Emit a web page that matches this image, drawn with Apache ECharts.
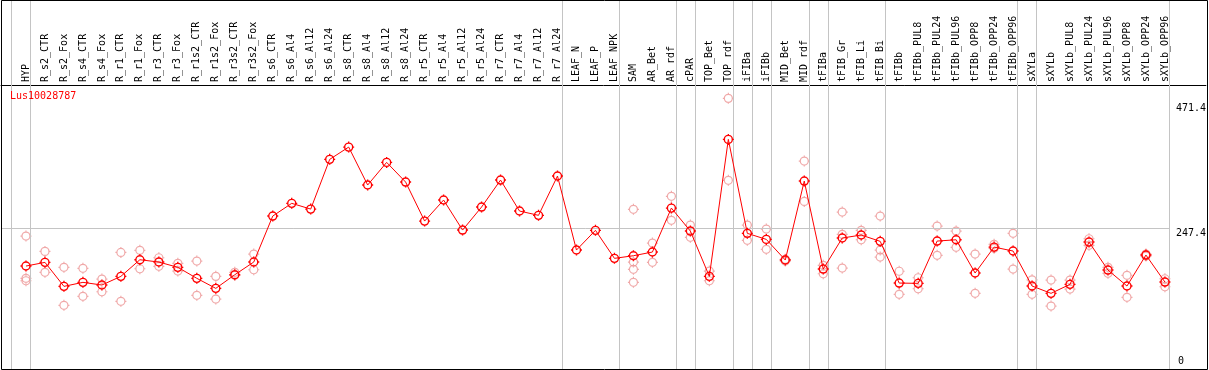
<!DOCTYPE html>
<html>
<head>
<meta charset="utf-8">
<script src="https://cdn.jsdelivr.net/npm/echarts@6/dist/echarts.min.js"></script>
<style>
html,body{margin:0;padding:0;background:#fff;}
#chart{width:1209px;height:370px;}
</style>
</head>
<body>
<div id="chart"></div>
<script>
const geneId = 'Lus10028787';
const categories = ['HYP','R_s2_CTR','R_s2_Fox','R_s4_CTR','R_s4_Fox','R_r1_CTR','R_r1_Fox','R_r3_CTR','R_r3_Fox','R_r1s2_CTR','R_r1s2_Fox','R_r3s2_CTR','R_r3s2_Fox','R_s6_CTR','R_s6_Al4','R_s6_Al12','R_s6_Al24','R_s8_CTR','R_s8_Al4','R_s8_Al12','R_s8_Al24','R_r5_CTR','R_r5_Al4','R_r5_Al12','R_r5_Al24','R_r7_CTR','R_r7_Al4','R_r7_Al12','R_r7_Al24','LEAF_N','LEAF_P','LEAF_NPK','SAM','AR_Bet','AR_rdf','cPAR','TOP_Bet','TOP_rdf','iFIBa','iFIBb','MID_Bet','MID_rdf','tFIBa','tFIB_Gr','tFIB_Li','tFIB_Bi','tFIBb','tFIBb_PUL8','tFIBb_PUL24','tFIBb_PUL96','tFIBb_OPP8','tFIBb_OPP24','tFIBb_OPP96','sXYLa','sXYLb','sXYLb_PUL8','sXYLb_PUL24','sXYLb_PUL96','sXYLb_OPP8','sXYLb_OPP24','sXYLb_OPP96'];
const means = [179.2,185.8,142.8,150.0,145.2,160.7,190.5,186.4,176.9,157.2,139.2,163.6,186.4,268.8,291.6,281.3,370.4,392.4,324.4,365.0,329.7,259.8,297.5,243.7,284.9,333.3,277.8,270.1,340.5,207.9,243.2,193.0,197.7,204.3,283.1,241.9,160.7,406.2,237.8,227.0,190.0,331.5,173.8,229.4,234.8,223.5,148.7,148.2,224.0,226.3,166.7,213.2,206.1,143.4,130.3,146.4,222.2,172.0,143.4,198.9,150.5];
const replicates = [
  [233.0,157.2,152.9],[205.5,167.9],[176.9,108.8],[175.1,124.9],[155.9,133.1],[203.7,115.9],[207.3,174.4],[194.1,178.7],[184.0,170.2],[188.2,126.7],
  [160.7,120.1],[167.9,162.5],[200.7,172.6],[],[],[],[],[],[],[],
  [],[],[],[],[],[],[],[],[],[],
  [],[],[280.8,186.4,173.3,150.0],[220.4,185.8],[304.1,261.1],[252.7,230.6],[170.2,152.9],[479.7,332.8],[252.7,225.3],[245.5,209.1],
  [191.2,188.2],[367.4,295.1],[180.5,165.4],[276.0,236.0,175.6],[243.2,226.3],[268.8,207.9,195.3],[169.9,128.5],[158.2,138.5],[250.9,198.4],[241.9,212.7],
  [200.7,130.3],[218.1,210.9],[237.8,173.8],[154.6,128.5],[154.1,107.5],[154.1,138.0],[228.1,216.3],[176.9,166.1],[162.5,123.1],[200.7,197.1],
  [156.4,142.1]
];
const groupEnds = [-1,0,28,31,34,35,37,38,39,41,42,45,52,53,60];
const yTickLabels = [247.4, 471.4];
const yZeroLabel = [0];
const refLine = 247.4;

const FONT = 'DejaVu Sans Mono';
const SEP_OFF = 4.5/19;
const xMin = -25/19, xMax = 1181/19;
const markerPath = 'path://M5.5,1.5 C7.709,1.5 9.5,3.291 9.5,5.5 C9.5,7.709 7.709,9.5 5.5,9.5 C3.291,9.5 1.5,7.709 1.5,5.5 C1.5,3.291 3.291,1.5 5.5,1.5 Z M5.5,0 L5.5,1.5 M5.5,9.5 L5.5,11 M0,5.5 L1.5,5.5 M9.5,5.5 L11,5.5';

const repData = [];
replicates.forEach((arr, i) => arr.forEach(v => repData.push([i, v])));
const meanData = means.map((v, i) => [i, v]);

const chart = echarts.init(document.getElementById('chart'), null, {renderer: 'canvas'});
const yBase = {type:'value', min:-5.3, max:656, position:'right', axisLine:{show:false}, axisTick:{show:false}, splitLine:{show:false}};
chart.setOption({
  animation: false,
  backgroundColor: '#fff',
  title: {text: geneId, left: 10, top: 91, padding: 0, textStyle: {color: '#ff0000', fontSize: 10, fontWeight: 'normal', fontFamily: FONT}},
  grid: {left: 1, right: 2, top: 0, bottom: 1, containLabel: false},
  xAxis: {
    type: 'value', min: xMin, max: xMax, position: 'top', offset: -85,
    axisLine: {show: true, onZero: false, lineStyle: {color: '#000', width: 1}},
    axisTick: {show: false}, splitLine: {show: false},
    axisLabel: {
      customValues: categories.map((_, i) => i),
      formatter: v => categories[Math.round(v)] || '',
      rotate: -90, margin: 3, fontFamily: FONT, fontSize: 10, color: '#000',
      showMinLabel: true, showMaxLabel: true
    }
  },
  yAxis: [
    Object.assign({}, yBase, {axisLabel: {inside: true, customValues: yTickLabels, align: 'left', verticalAlign: 'top', margin: 30, fontFamily: FONT, fontSize: 10, color: '#000'}}),
    Object.assign({}, yBase, {axisLabel: {inside: true, customValues: yZeroLabel, align: 'left', verticalAlign: 'bottom', margin: 28, fontFamily: FONT, fontSize: 10, lineHeight: 9, color: '#000'}})
  ],
  graphic: [{type: 'rect', shape: {x: 1.5, y: 0.5, width: 1206, height: 369}, style: {fill: 'none', stroke: '#000', lineWidth: 1}, z: 100}],
  series: [
    {
      type: 'scatter', data: repData, symbol: markerPath, symbolSize: 11,
      itemStyle: {color: 'none', borderColor: '#ec9494', borderWidth: 1.2},
      z: 3, silent: true,
      markLine: {
        silent: true, symbol: 'none', label: {show: false}, animation: false,
        lineStyle: {color: '#c4c4c4', width: 1, type: 'solid'},
        data: groupEnds.map(g => ({xAxis: g + SEP_OFF})).concat([[{coord: [xMin, refLine]}, {coord: [60 + SEP_OFF, refLine]}]])
      }
    },
    {
      type: 'line', data: meanData, symbol: markerPath, symbolSize: 11, showSymbol: true,
      lineStyle: {color: '#ff0000', width: 1},
      itemStyle: {color: 'none', borderColor: '#ff0000', borderWidth: 1.4},
      z: 5, silent: true
    }
  ]
});
</script>
</body>
</html>
